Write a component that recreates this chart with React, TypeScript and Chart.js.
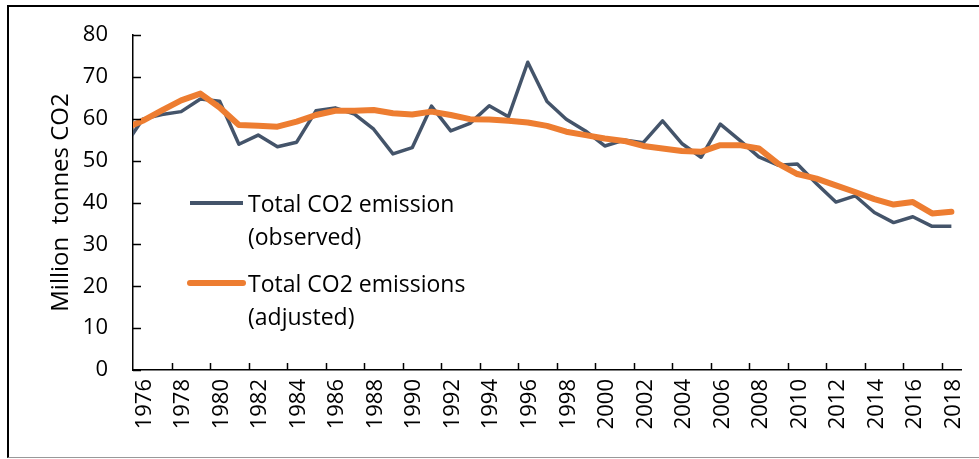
import React, { useEffect, useRef } from "react";
import { Chart, registerables } from "chart.js";

Chart.register(...registerables);

// ---- data ----
const years = [
  1975, 1976, 1977, 1978, 1979, 1980, 1981, 1982, 1983, 1984, 1985, 1986, 1987, 1988, 1989,
  1990, 1991, 1992, 1993, 1994, 1995, 1996, 1997, 1998, 1999, 2000, 2001, 2002, 2003, 2004,
  2005, 2006, 2007, 2008, 2009, 2010, 2011, 2012, 2013, 2014, 2015, 2016, 2017, 2018,
];

const observed = [
  53.0, 59.9, 61.0, 61.7, 64.7, 64.2, 53.9, 56.1, 53.3, 54.4, 61.9, 62.6, 61.1, 57.5, 51.6,
  53.1, 63.0, 57.1, 58.9, 63.1, 60.5, 73.5, 64.1, 59.9, 57.1, 53.5, 54.9, 54.3, 59.5, 54.1,
  50.8, 58.7, 54.9, 50.9, 48.9, 49.2, 44.5, 40.1, 41.6, 37.6, 35.2, 36.6, 34.3, 34.3,
];

const adjusted = [
  57.5, 59.5, 62.0, 64.4, 66.0, 62.7, 58.5, 58.3, 58.1, 59.3, 60.9, 61.9, 61.9, 62.1, 61.3,
  61.0, 61.7, 60.9, 59.9, 59.8, 59.5, 59.1, 58.3, 56.9, 56.1, 55.3, 54.7, 53.5, 52.9, 52.3,
  52.1, 53.7, 53.7, 52.9, 49.3, 46.8, 45.7, 44.1, 42.5, 40.8, 39.5, 40.1, 37.4, 37.8,
];

const xTickLabels = [
  1976, 1978, 1980, 1982, 1984, 1986, 1988, 1990, 1992, 1994, 1996, 1998, 2000, 2002, 2004,
  2006, 2008, 2010, 2012, 2014, 2016, 2018,
];

const yTickValues = [0, 10, 20, 30, 40, 50, 60, 70, 80];

const seriesNames = ["Total CO2 emission (observed)", "Total CO2 emissions (adjusted)"];
const legendLines = [
  ["Total CO2 emission", "(observed)"],
  ["Total CO2 emissions", "(adjusted)"],
];
const yTitle = "Million  tonnes CO2";

const GREY = "#44546A";
const ORANGE = "#ED7D31";
const FONT = "'Open Sans', 'Liberation Sans', sans-serif";

const tickMarksPlugin = {
  id: "tickMarks",
  afterDatasetsDraw(chart: any) {
    const { ctx, chartArea, scales } = chart;
    const xs = scales.x;
    const ys = scales.y;
    ctx.save();
    ctx.strokeStyle = "#000";
    ctx.lineWidth = 1.5;
    ctx.beginPath();
    xTickLabels.forEach((v) => {
      const px = Math.round(xs.getPixelForValue(v - 0.5)) + 0.5;
      if (px > chartArea.left + 2) {
        ctx.moveTo(px, chartArea.bottom);
        ctx.lineTo(px, chartArea.bottom - 7);
      }
    });
    yTickValues.forEach((v) => {
      const py = Math.round(ys.getPixelForValue(v)) + 0.5;
      ctx.moveTo(chartArea.left, py);
      ctx.lineTo(chartArea.left + 8, py);
    });
    ctx.stroke();
    ctx.restore();
  },
};

const legendPlugin = {
  id: "customLegend",
  afterDraw(chart: any) {
    const { ctx, chartArea } = chart;
    const colors = [GREY, ORANGE];
    const widths = [4, 6];
    const caps = ["butt", "round"];
    const sampleY = [203, 283];
    ctx.save();
    legendLines.forEach((lines, i) => {
      const x0 = chartArea.left + 57;
      const x1 = chartArea.left + 110;
      ctx.strokeStyle = colors[i];
      ctx.lineWidth = widths[i];
      ctx.lineCap = caps[i];
      ctx.beginPath();
      ctx.moveTo(x0, sampleY[i]);
      ctx.lineTo(x1, sampleY[i]);
      ctx.stroke();
      ctx.fillStyle = "#000";
      ctx.font = `23px ${FONT}`;
      ctx.textAlign = "left";
      ctx.textBaseline = "alphabetic";
      lines.forEach((t, j) => {
        ctx.fillText(t, chartArea.left + 115, sampleY[i] + 9 + j * 33);
      });
    });
    ctx.restore();
  },
};

export default function App() {
  const canvasRef = useRef<HTMLCanvasElement | null>(null);

  useEffect(() => {
    if (!canvasRef.current) return;
    const chart = new Chart(canvasRef.current, {
      type: "line",
      data: {
        datasets: [
          {
            label: seriesNames[0],
            data: years.map((y, i) => ({ x: y, y: observed[i] })),
            borderColor: GREY,
            backgroundColor: GREY,
            borderWidth: 3.5,
            pointRadius: 0,
            tension: 0,
            order: 2,
            borderJoinStyle: "round",
            clip: { left: 0, top: 6, right: 6, bottom: 6 },
          },
          {
            label: seriesNames[1],
            data: years.map((y, i) => ({ x: y, y: adjusted[i] })),
            borderColor: ORANGE,
            backgroundColor: ORANGE,
            borderWidth: 6,
            pointRadius: 0,
            tension: 0,
            order: 1,
            borderJoinStyle: "round",
            borderCapStyle: "round",
            clip: { left: 0, top: 6, right: 6, bottom: 6 },
          },
        ],
      },
      options: {
        animation: false,
        responsive: false,
        devicePixelRatio: 1,
        layout: { padding: { left: 0, top: 35, right: 18, bottom: 0 } },
        plugins: {
          legend: { display: false },
          tooltip: { enabled: false },
        },
        scales: {
          x: {
            type: "linear",
            min: 1975.5,
            max: 2018.5,
            afterBuildTicks: (s: any) => {
              s.ticks = xTickLabels.map((v) => ({ value: v }));
            },
            afterFit: (s: any) => {
              s.height = 89;
              s.paddingLeft = 0;
              s.paddingRight = 0;
            },
            ticks: {
              autoSkip: false,
              maxRotation: 90,
              minRotation: 90,
              padding: 9,
              labelOffset: 2,
              color: "#000",
              font: { family: FONT, size: 22 },
              callback: (v: any) => String(v),
            },
            grid: { display: false, drawTicks: false },
            border: { display: true, color: "#000", width: 1.5 },
          },
          y: {
            min: 0,
            max: 80,
            afterBuildTicks: (s: any) => {
              s.ticks = yTickValues.map((v) => ({ value: v }));
            },
            afterFit: (s: any) => {
              s.width = 133;
              s.paddingTop = 0;
              s.paddingBottom = 0;
            },
            ticks: {
              padding: 25,
              color: "#000",
              font: { family: FONT, size: 22 },
              callback: (v: any) => String(v),
            },
            grid: { display: false, drawTicks: false },
            border: { display: true, color: "#000", width: 1.5 },
            title: {
              display: true,
              text: yTitle,
              color: "#000",
              font: { family: FONT, size: 24 },
              padding: { top: 47, bottom: 0 },
            },
          },
        },
      },
      plugins: [tickMarksPlugin, legendPlugin],
    } as any);
    return () => chart.destroy();
  }, []);

  return (
    <div style={{ position: "absolute", left: 0, top: 0, width: 979, height: 459, background: "#fff", overflow: "hidden" }}>
      <canvas ref={canvasRef} width={979} height={459} style={{ position: "absolute", left: 0, top: 0, width: 979, height: 459 }} />
      <div
        style={{
          position: "absolute",
          left: 7,
          top: 5,
          width: 972,
          height: 453,
          boxSizing: "border-box",
          borderTop: "2px solid #000",
          borderLeft: "2px solid #000",
          borderBottom: "1px solid #999",
          pointerEvents: "none",
        }}
      />
    </div>
  );
}
